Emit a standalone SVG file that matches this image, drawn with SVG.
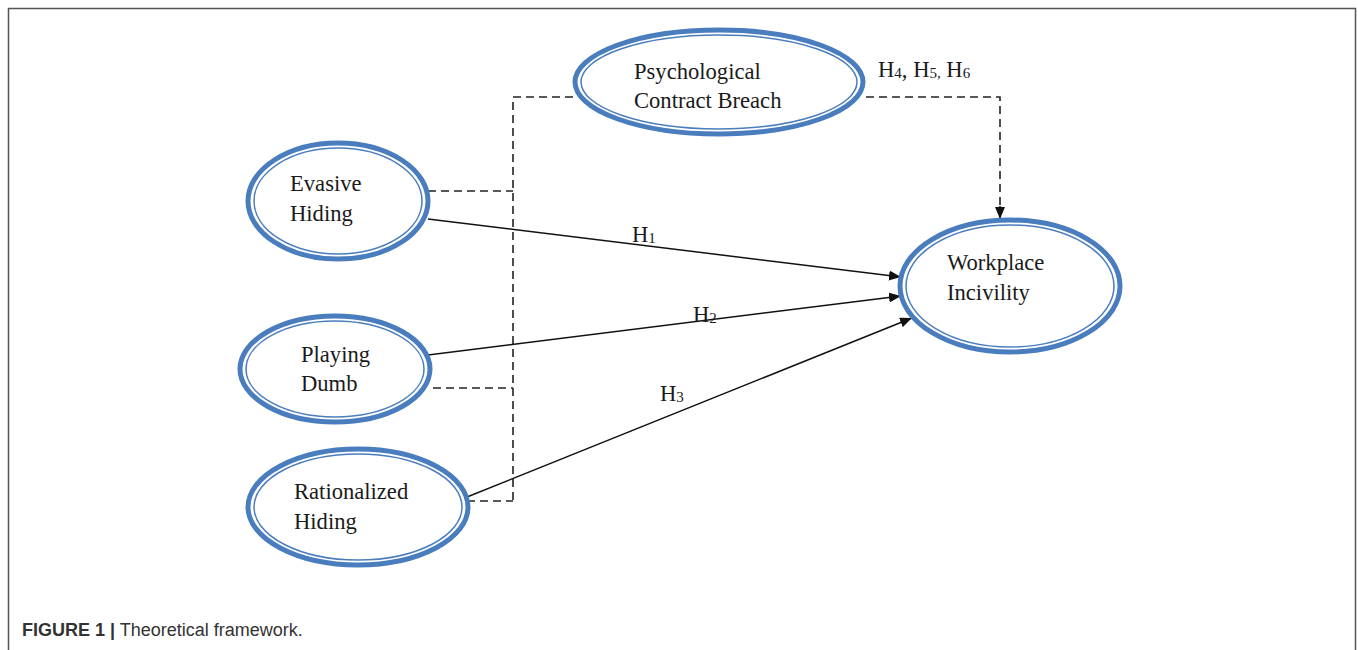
<svg xmlns="http://www.w3.org/2000/svg" width="1358" height="650" viewBox="0 0 1358 650">
<style>
.outer{fill:none;stroke:#4a7dbd;stroke-width:5}
.inner{fill:#fff;stroke:#4a7dbd;stroke-width:1.5}
.lbl{font-family:"Liberation Serif",serif;font-size:22.6px;fill:#1a1a1a}
.dash{fill:none;stroke:#222;stroke-width:1.6;stroke-dasharray:8,5}
.solid{fill:none;stroke:#111;stroke-width:1.5}
.cap{font-family:"Liberation Sans",Arial,sans-serif;font-size:18px;fill:#333}
</style>
<defs>
<marker id="ah" viewBox="0 0 12 10" refX="12" refY="5" markerWidth="12" markerHeight="10" markerUnits="userSpaceOnUse" orient="auto">
<path d="M0,0 L12,5 L0,10 Z" fill="#111"/>
</marker>
</defs>
<rect width="1358" height="650" fill="#fff"/>
<path d="M8.5,660 V8.5 H1355.5 V660" fill="none" stroke="#555" stroke-width="1.5"/>

<g id="connectors">
<path class="dash" d="M573,97 H513 V501"/>
<path class="dash" d="M428,191 H513"/>
<path class="dash" d="M433,388 H513"/>
<path class="dash" d="M467,501 H513"/>
<path class="dash" d="M866,97 H1000 V208"/>
<path d="M1000,206 V219" stroke="#111" stroke-width="1.5" marker-end="url(#ah)"/>
<path class="solid" d="M428,219 L901,277" marker-end="url(#ah)"/>
<path class="solid" d="M428,355 L901,296" marker-end="url(#ah)"/>
<path class="solid" d="M467,497 L912,318" marker-end="url(#ah)"/>
<text class="lbl" x="632" y="242">H<tspan font-size="15" dy="1">1</tspan></text>
<text class="lbl" x="693" y="322">H<tspan font-size="15" dy="1">2</tspan></text>
<text class="lbl" x="660" y="401">H<tspan font-size="15" dy="1">3</tspan></text>
<text class="lbl" x="878" y="77">H<tspan font-size="15" dy="1">4</tspan><tspan dy="-1">, H</tspan><tspan font-size="15" dy="1">5,</tspan><tspan dy="-1"> H</tspan><tspan font-size="15" dy="1">6</tspan></text>
</g>

<g id="node-pcb">
<ellipse class="outer" cx="719" cy="82" rx="144" ry="52"/>
<ellipse class="inner" cx="719" cy="82" rx="138" ry="47"/>
<text class="lbl" x="634" y="79">Psychological</text>
<text class="lbl" x="634" y="108">Contract Breach</text>
</g>

<g id="node-evasive">
<ellipse class="outer" cx="338" cy="201" rx="90" ry="58"/>
<ellipse class="inner" cx="338" cy="201" rx="84" ry="53"/>
<text class="lbl" x="290" y="191">Evasive</text>
<text class="lbl" x="290" y="221">Hiding</text>
</g>

<g id="node-playing">
<ellipse class="outer" cx="335" cy="369" rx="95" ry="53"/>
<ellipse class="inner" cx="335" cy="369" rx="89" ry="48"/>
<text class="lbl" x="301" y="362">Playing</text>
<text class="lbl" x="301" y="391">Dumb</text>
</g>

<g id="node-rationalized">
<ellipse class="outer" cx="358" cy="507" rx="110" ry="58"/>
<ellipse class="inner" cx="358" cy="507" rx="104" ry="53"/>
<text class="lbl" x="294" y="499">Rationalized</text>
<text class="lbl" x="294" y="529">Hiding</text>
</g>

<g id="node-workplace">
<ellipse class="outer" cx="1010" cy="286" rx="110" ry="66"/>
<ellipse class="inner" cx="1010" cy="286" rx="104" ry="61"/>
<text class="lbl" x="947" y="270">Workplace</text>
<text class="lbl" x="947" y="300">Incivility</text>
</g>

<text class="cap" x="22" y="636"><tspan font-weight="bold">FIGURE 1 |</tspan> Theoretical framework.</text>
</svg>
